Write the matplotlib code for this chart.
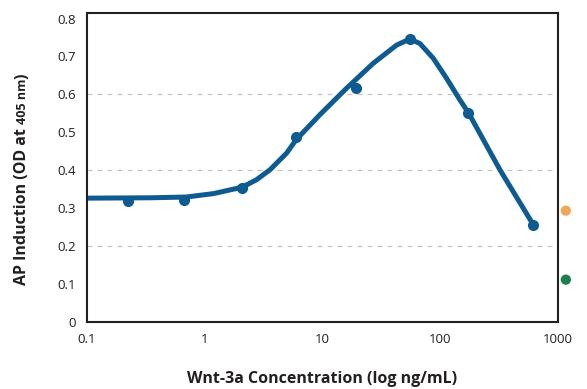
import matplotlib
matplotlib.use("Agg")
import matplotlib.pyplot as plt

plt.rcParams['font.family'] = ['Open Sans', 'DejaVu Sans']

# Measured points (Wnt-3a concentration in ng/mL, OD at 405 nm)
conc = [0.224, 0.673, 2.09, 5.97, 19.1, 55.2, 172.6, 614]
od = [0.319, 0.320, 0.353, 0.488, 0.616, 0.745, 0.552, 0.256]

# Fitted curve
curve_x = [0.1, 0.35, 0.7, 1.19, 2.09, 2.77, 3.59, 4.97, 5.97, 9.5, 16.0,
           27.0, 42.6, 55.2, 67.1, 87.1, 113, 146.6, 172.6, 320, 614]
curve_y = [0.326, 0.327, 0.329, 0.338, 0.355, 0.375, 0.401, 0.445, 0.480, 0.546, 0.616,
           0.682, 0.730, 0.746, 0.734, 0.695, 0.642, 0.585, 0.552, 0.401, 0.256]

# Control dots outside the plot
ctrl_x = [1160, 1160]
ctrl_y = [0.293, 0.111]
ctrl_colors = ['#f2a65a', '#1b7f4f']

blue = '#0d5b91'
dark = '#231f20'

fig = plt.figure(figsize=(5.87, 3.89), dpi=100)
ax = fig.add_axes([0.1477, 0.173, 0.8033, 0.794])

for g in [0.2, 0.4, 0.6]:
    ax.axhline(g, color='#c4c4c4', lw=0.9, ls=(0, (4, 4)), zorder=0)

ax.plot(curve_x, curve_y, color=blue, lw=3.6, solid_capstyle='round',
        solid_joinstyle='round', zorder=2)
ax.plot(conc, od, 'o', color=blue, ms=7, zorder=3)
ax.scatter(ctrl_x, ctrl_y, s=55, c=ctrl_colors, clip_on=False, zorder=3, linewidths=0)

ax.set_xscale('log')
ax.set_xlim(0.1, 1000)
ax.set_ylim(0, 0.815)
ax.set_xticks([0.1, 1, 10, 100, 1000])
ax.set_xticklabels(['0.1', '1', '10', '100', '1000'])
ax.minorticks_off()
ax.set_yticks([0, 0.1, 0.2, 0.3, 0.4, 0.5, 0.6, 0.7, 0.8])
ax.set_yticklabels(['0', '0.1', '0.2', '0.3', '0.4', '0.5', '0.6', '0.7', '0.8'])
ax.tick_params(length=0, labelsize=9.5, colors=dark, pad=8)
for s in ax.spines.values():
    s.set_color(dark)
    s.set_linewidth(1.5)

ax.set_xlabel('Wnt-3a Concentration (log ng/mL)', fontsize=11.5, fontweight='bold',
              color=dark, labelpad=18)

# y label with smaller "405 nm", placed piece by piece from the bottom up
fig.canvas.draw()
r = fig.canvas.get_renderer()
parts = [('AP Induction (OD at ', 11.5), ('405 nm', 9), (')', 11.5)]
x_px = 22
y_px = 389 - 285
for txt, sz in parts:
    t = fig.text(x_px / 587, y_px / 389, txt, rotation=90, fontsize=sz,
                 fontweight='bold', color=dark, ha='left', va='center',
                 rotation_mode='anchor')
    bb = t.get_window_extent(r)
    y_px += bb.height

fig.savefig('out.png', dpi=100)
